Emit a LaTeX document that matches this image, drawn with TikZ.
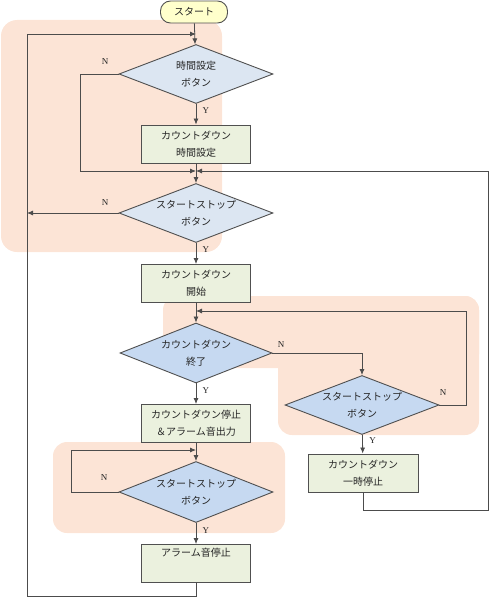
\documentclass[tikz,border=0pt]{standalone}
\usepackage{fontspec}
\setmainfont{Liberation Serif}
\newfontfamily\jp{Noto Sans CJK JP}
\usetikzlibrary{shapes.geometric,arrows.meta}
\definecolor{lineg}{HTML}{505050}
\definecolor{zonefill}{HTML}{FCE4D6}
\definecolor{procfill}{HTML}{EBF1DE}
\definecolor{decfill}{HTML}{DCE6F2}
\definecolor{decfillb}{HTML}{C6D9F1}
\definecolor{termfill}{HTML}{FFFFCC}
\begin{document}
\begin{tikzpicture}[x=1pt,y=-1pt,
  every node/.style={font=\jp\fontsize{10}{17}\selectfont, text=black!85, align=center},
  term/.style={draw=lineg, line width=0.9pt, fill=termfill, rounded corners=10pt,
    minimum width=67pt, minimum height=22pt, inner sep=0pt},
  proc/.style={draw=lineg, line width=0.9pt, fill=procfill,
    minimum width=109pt, minimum height=38pt, inner sep=0pt},
  dec/.style={diamond, draw=lineg, line width=0.9pt, fill=decfill, aspect=2.6,
    minimum width=154pt, minimum height=59pt, inner sep=0pt},
  decb/.style={dec, fill=decfillb},
  flow/.style={draw=black!70, line width=0.8pt, -{Latex[length=6pt,width=5pt]}},
  yn/.style={font=\fontsize{9}{10}\selectfont, right=3pt}]
  \useasboundingbox (0,0) rectangle (490,599);
  \fill[zonefill, rounded corners=16pt] (1,20) rectangle (222,252);
  \fill[zonefill, rounded corners=14pt] (163,296) rectangle (479,368);
  \fill[zonefill, rounded corners=14pt] (278,296) rectangle (479,435);
  \fill[zonefill, rounded corners=14pt] (53,442) rectangle (285,533);

  \node[term] (start) at (194,12) {スタート};
  \node[dec] (set) at (196,74) {時間設定\\ボタン};
  \node[proc] (settime) at (196,144) {カウントダウン\\時間設定};
  \node[dec] (ss1) at (196,213) {スタートストップ\\ボタン};
  \node[proc] (run) at (196,283.5) {カウントダウン\\開始};
  \node[decb, minimum width=152pt, minimum height=60pt] (end) at (196,353) {カウントダウン\\終了};
  \node[proc] (alarm) at (196,423.5) {カウントダウン停止\\＆アラーム音出力};
  \node[decb] (ss2) at (362,405) {スタートストップ\\ボタン};
  \node[proc, minimum width=110pt] (pause) at (363,473) {カウントダウン\\一時停止};
  \node[decb, minimum height=61pt] (ss3) at (196,492) {スタートストップ\\ボタン};
  \node[proc] (stop) at (196,563.5) {アラーム音停止\\\strut};

  \coordinate (top) at (196,34);
  \coordinate (m1) at (196,171);
  \coordinate (m2) at (196,311);
  \coordinate (m3) at (196,450);
  \coordinate (out) at (27,213);

  \draw[flow] (start) -- (set);
  \draw[flow] (set) -- node[yn, pos=0.3] {Y} (settime);
  \draw[flow] (settime) -- (ss1);
  \draw[flow] (ss1) -- node[yn, pos=0.3] {Y} (run);
  \draw[flow] (run) -- (end);
  \draw[flow] (end) -- node[yn, pos=0.35] {Y} (alarm);
  \draw[flow] (alarm) -- (ss3);
  \draw[flow] (ss3) -- node[yn, pos=0.35] {Y} (stop);
  \draw[flow] (ss2) -- node[yn, pos=0.3] {Y} (pause);

  \draw[flow] (set.west) -- ++(-38,0) |- (m1);
  \draw[flow] (ss1.west) -- (out);
  \draw[flow] (end.east) -| (ss2.north);
  \draw[flow] (ss2.east) -- ++(27,0) |- (m2);
  \draw[flow] (pause.south) |- (488,510) |- (m1);
  \draw[flow] (ss3.west) -- ++(-47,0) |- (m3);
  \draw[flow] (stop.south) |- (27,596) |- (top);

  \node[font=\fontsize{9}{10}\selectfont] (n1) at (105,62) {N};
  \node[font=\fontsize{9}{10}\selectfont] (n2) at (105,203) {N};
  \node[font=\fontsize{9}{10}\selectfont] (n3) at (281,345) {N};
  \node[font=\fontsize{9}{10}\selectfont] (n4) at (443,393) {N};
  \node[font=\fontsize{9}{10}\selectfont] (n5) at (104,478) {N};
\end{tikzpicture}
\end{document}
